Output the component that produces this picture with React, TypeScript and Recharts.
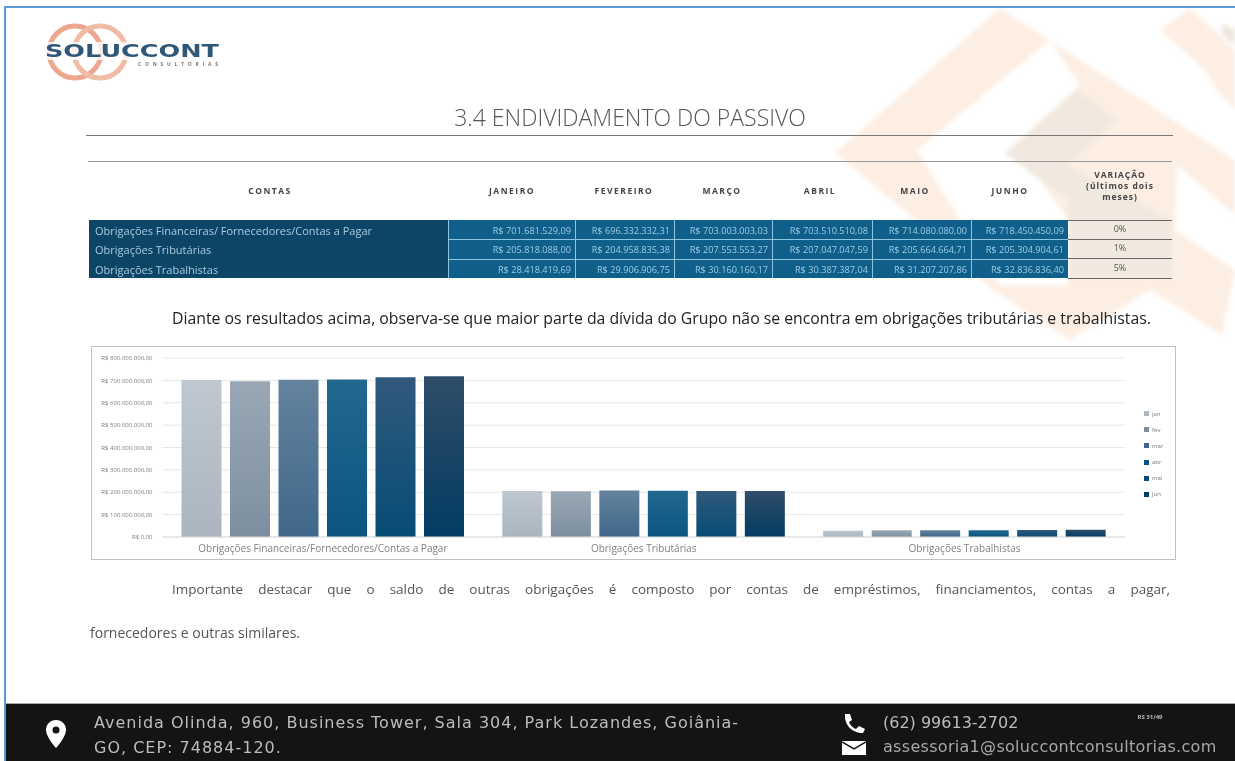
import { BarChart, Bar, XAxis, YAxis, CartesianGrid, Legend } from 'recharts';

const categories = [
  'Obrigações Financeiras/Fornecedores/Contas a Pagar',
  'Obrigações Tributárias',
  'Obrigações Trabalhistas',
];
const tableRows = [
  'Obrigações Financeiras/ Fornecedores/Contas a Pagar',
  'Obrigações Tributárias',
  'Obrigações Trabalhistas',
];
const months = ['jan', 'fev', 'mar', 'abr', 'mai', 'jun'];
const monthHeaders = ['JANEIRO', 'FEVEREIRO', 'MARÇO', 'ABRIL', 'MAIO', 'JUNHO'];
const jan = [701681529.09, 205818088.0, 28418419.69];
const fev = [696332332.31, 204958835.38, 29906906.75];
const mar = [703003003.03, 207553553.27, 30160160.17];
const abr = [703510510.08, 207047047.59, 30387387.04];
const mai = [714080080.0, 205664664.71, 31207207.86];
const jun = [718450450.09, 205304904.61, 32836836.4];
const series = [jan, fev, mar, abr, mai, jun];
const variation = ['0%', '1%', '5%'];
const yTicks = [0, 100000000, 200000000, 300000000, 400000000, 500000000, 600000000, 700000000, 800000000];
const gradients = [
  ['#bfc8d0', '#aab5bf'],
  ['#9aa8b5', '#7d8f9f'],
  ['#64839d', '#40678a'],
  ['#21688f', '#0b5580'],
  ['#30597b', '#074c75'],
  ['#2f4d68', '#023c63'],
];

const money = (v: number) =>
  'R$\u00A0' + v.toLocaleString('pt-BR', { minimumFractionDigits: 2, maximumFractionDigits: 2 });

const chartData = categories.map((name, i) => {
  const row: Record<string, string | number> = { name };
  months.forEach((m, s) => {
    row[m] = series[s][i];
  });
  return row;
});

const font = '"Open Sans", sans-serif';
const dejavu = '"DejaVu Sans", sans-serif';
const columnLines = [448, 575, 674, 772, 872, 971];
const columnCenters = [512, 624, 722, 820, 915, 1010];
const rowTops = [220, 239, 259];

const Txt = ({ x, y, w, align = 'left', size, color, weight = 400, spacing = 0, family = font, children }: any) => (
  <div
    style={{
      position: 'absolute',
      left: x,
      top: y,
      width: w,
      textAlign: align,
      fontSize: size,
      color,
      fontWeight: weight,
      letterSpacing: spacing,
      fontFamily: family,
      lineHeight: 1.2,
      whiteSpace: 'nowrap',
    }}
  >
    {children}
  </div>
);

const Line = ({ x, y, w, h = 1, color = '#6b6b6b' }: any) => (
  <div style={{ position: 'absolute', left: x, top: y, width: w, height: h, background: color }} />
);

const LegendList = () => (
  <div>
    {months.map((m, i) => (
      <div key={m} style={{ display: 'flex', alignItems: 'center', height: 16.2, fontSize: 6, color: '#777', fontFamily: font }}>
        <span style={{ width: 5, height: 5, marginRight: 3, background: gradients[i][1] }} />
        {m}
      </div>
    ))}
  </div>
);

const Backdrop = () => (
  <svg width={1235} height={761} style={{ position: 'absolute', left: 0, top: 0, filter: 'blur(2px)' }}>
    <polygon points="835,153 1000,8 1235,160 1235,270 1222,335 1150,290 1070,340 990,288 907,213" fill="#fdeee3" />
    <polygon points="917,150 1050,40 1080,85 1005,153 1040,180 1068,220 1068,285 1000,285" fill="#ffffff" />
    <polygon points="1005,153 1077,90 1118,120 1068,165 1172,220 1172,278 1068,278 1068,200 1040,180" fill="#f1e9e0" />
    <polygon points="1160,30 1190,8 1235,50 1235,120 1205,70" fill="#fdeee3" />
    <polygon points="1222,15 1235,15 1235,45 1222,35" fill="#eee6dd" />
    <polygon points="1177,165 1235,215 1235,270 1175,230" fill="#ffffff" />
    <polygon points="1000,8 1050,-10 1235,-10 1235,30 1190,8 1160,30 1235,110 1235,160" fill="#ffffff" />
  </svg>
);

const Logo = () => (
  <svg width={190} height={80} style={{ position: 'absolute', left: 40, top: 15 }}>
    <circle cx={35} cy={37} r={26} fill="none" stroke="#eda78f" strokeWidth={5} />
    <circle cx={60} cy={37} r={26} fill="none" stroke="#f1bca6" strokeWidth={5} />
    <rect x={4} y={27} width={180} height={18} fill="#ffffff" opacity={0.8} />
    <text x={5} y={42} fontFamily={dejavu} fontSize={17} fontWeight={700} fill="#2f5878" textLength={174} lengthAdjust="spacingAndGlyphs">
      SOLUCCONT
    </text>
    <text x={98} y={51} fontFamily={font} fontSize={5} fontWeight={700} fill="#777" textLength={80}>
      CONSULTORIAS
    </text>
  </svg>
);

const App = () => (
  <div style={{ position: 'absolute', left: 0, top: 0, width: 1235, height: 761, background: '#fff', overflow: 'hidden', filter: 'blur(0.7px)' }}>
    <Backdrop />
    <Line x={4} y={6} w={1231} h={2} color="#5b9bd5" />
    <Line x={4} y={6} w={2} h={755} color="#5b9bd5" />
    <Logo />

    <Txt x={430} y={104} w={400} align="center" size={23} color="#555" weight={300}>
      3.4 ENDIVIDAMENTO DO PASSIVO
    </Txt>
    <Line x={86} y={135} w={1087} color="#777" />
    <Line x={88} y={161} w={1084} color="#999" />

    <Txt x={170} y={186} w={200} align="center" size={8.5} spacing={1.5} color="#444" weight={700}>CONTAS</Txt>
    {monthHeaders.map((m, i) => (
      <Txt key={m} x={columnCenters[i] - 50} y={186} w={100} align="center" size={8.5} spacing={1.5} color="#444" weight={700}>{m}</Txt>
    ))}
    <Txt x={1070} y={170} w={100} align="center" size={8.5} spacing={1} color="#444" weight={700}>VARIAÇÃO</Txt>
    <Txt x={1070} y={181} w={100} align="center" size={8.5} spacing={1} color="#444" weight={700}>(últimos dois</Txt>
    <Txt x={1070} y={192} w={100} align="center" size={8.5} spacing={1} color="#444" weight={700}>meses)</Txt>

    <div style={{ position: 'absolute', left: 89, top: 220, width: 359, height: 58, background: '#0d4567' }} />
    <div style={{ position: 'absolute', left: 448, top: 220, width: 620, height: 58, background: '#0f5f8a' }} />
    {[239, 259].map((y) => <Line key={y} x={448} y={y} w={620} color="#8cc4e2" />)}
    {columnLines.map((x) => <Line key={x} x={x} y={220} w={1} h={58} color="#8cc4e2" />)}
    {tableRows.map((label, r) => (
      <Txt key={label} x={95} y={rowTops[r] + 4} size={11} color="#a7cbe0">{label}</Txt>
    ))}
    {series.map((values, c) =>
      values.map((v, r) => (
        <Txt key={c + '-' + r} x={columnLines[c]} y={rowTops[r] + 5} w={(c < 5 ? columnLines[c + 1] : 1068) - columnLines[c] - 4} align="right" size={9.2} color="#9ccbe6">
          {money(v)}
        </Txt>
      ))
    )}
    {variation.map((v, r) => (
      <Txt key={r} x={1070} y={rowTops[r] + 4} w={100} align="center" size={9} color="#555">{v}</Txt>
    ))}
    {[220, 239, 258, 278].map((y) => <Line key={y} x={1068} y={y} w={104} color="#666" />)}

    <Txt x={172} y={309} size={15.8} color="#222">
      Diante os resultados acima, observa-se que maior parte da dívida do Grupo não se encontra em obrigações tributárias e trabalhistas.
    </Txt>

    <div style={{ position: 'absolute', left: 91, top: 346, width: 1085, height: 214, boxSizing: 'border-box', border: '1.5px solid #bcc1c5' }} />
    <div style={{ position: 'absolute', left: 91, top: 346 }}>
      <BarChart
        width={1085}
        height={214}
        data={chartData}
        barSize={40}
        barGap={8.5}
        margin={{ top: 12, right: 10, bottom: 3, left: 0 }}
      >
        <defs>
          {gradients.map((g, i) => (
            <linearGradient key={i} id={'bar' + i} x1="0" y1="0" x2="0" y2="1">
              <stop offset="0%" stopColor={g[0]} />
              <stop offset="100%" stopColor={g[1]} />
            </linearGradient>
          ))}
        </defs>
        <CartesianGrid horizontal vertical={false} stroke="#e6e6e6" />
        <XAxis
          dataKey="name"
          height={20}
          axisLine={{ stroke: '#dcdcdc' }}
          tickLine={false}
          interval={0}
          tick={{ fill: '#808080', fontSize: 10, fontFamily: font }}
        />
        <YAxis
          width={71.5}
          domain={[0, 800000000]}
          ticks={yTicks}
          interval={0}
          axisLine={false}
          tickLine={false}
          tickMargin={4}
          tickFormatter={(v: number) => money(v)}
          tick={{ fill: '#7d7d7d', fontSize: 6, fontFamily: font }}
        />
        <Legend
          layout="vertical"
          align="right"
          verticalAlign="middle"
          width={41}
          wrapperStyle={{ left: 1053, marginTop: 1 }}
          content={<LegendList />}
        />
        {months.map((m, i) => (
          <Bar key={m} dataKey={m} fill={'url(#bar' + i + ')'} isAnimationActive={false} />
        ))}
      </BarChart>
    </div>

    <Txt x={172} y={581} size={13.5} color="#555" w={998}>
      <div style={{ textAlign: 'justify', textAlignLast: 'justify', whiteSpace: 'normal' }}>
        Importante destacar que o saldo de outras obrigações é composto por contas de empréstimos, financiamentos, contas a pagar,
      </div>
    </Txt>
    <Txt x={90} y={625} size={14} color="#555">fornecedores e outras similares.</Txt>

    <div style={{ position: 'absolute', left: 6, top: 703, width: 1229, height: 58, background: '#141414', borderTop: '1px solid #aaa', boxSizing: 'border-box' }} />
    <svg width={20} height={28} viewBox="0 0 20 28" style={{ position: 'absolute', left: 46, top: 720 }}>
      <path d="M10 0C4 0 0 4.5 0 10c0 7 10 18 10 18s10-11 10-18C20 4.500 16 0 10 0z" fill="#fff" />
      <circle cx={10} cy={10} r={3.5} fill="#141414" />
    </svg>
    <Txt x={94} y={713} size={16} spacing={1} color="#bdbdbd" family={dejavu}>
      Avenida Olinda, 960, Business Tower, Sala 304, Park Lozandes, Goiânia-
    </Txt>
    <Txt x={94} y={738} size={16} spacing={1} color="#bdbdbd" family={dejavu}>GO, CEP: 74884-120.</Txt>
    <svg width={24} height={20} viewBox="0 0 24 20" style={{ position: 'absolute', left: 842, top: 713 }}>
      <path d="M3 1l5 0 2 6-3 2c1 3 4 6 7 7l3-3 6 3-2 4C10 20 2 12 3 1z" fill="#fff" />
    </svg>
    <svg width={24} height={14} viewBox="0 0 24 14" style={{ position: 'absolute', left: 842, top: 741 }}>
      <rect x={0} y={0} width={24} height={14} fill="#fff" />
      <path d="M0 1l12 7 12-7" fill="none" stroke="#141414" strokeWidth={1.5} />
    </svg>
    <Txt x={883} y={713} size={16} color="#bdbdbd" family={dejavu}>(62) 99613-2702</Txt>
    <Txt x={883} y={737} size={16} spacing={0.3} color="#a8a8a8" family={dejavu}>assessoria1@soluccontconsultorias.com</Txt>
    <Txt x={1128} y={714} w={44} align="center" size={6} color="#bbb" weight={700}>RS 31/49</Txt>
  </div>
);

export default App;
